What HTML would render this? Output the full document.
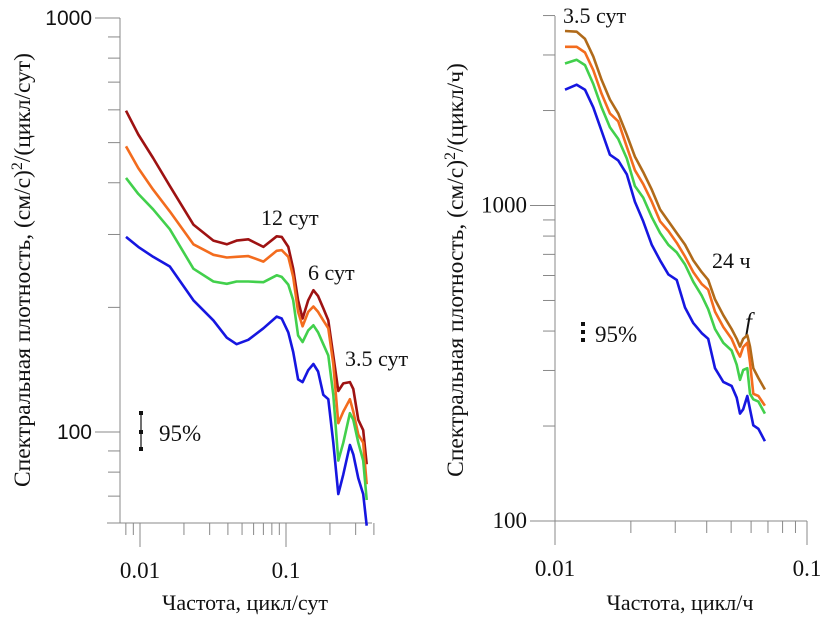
<!DOCTYPE html>
<html><head><meta charset="utf-8"><style>
html,body{margin:0;padding:0;background:#fff;}
svg{display:block;}
svg text{font-family:"Liberation Serif","DejaVu Serif",serif;fill:#111;}
</style></head><body>
<svg id="chart" width="823" height="618" viewBox="0 0 823 618" xmlns="http://www.w3.org/2000/svg" font-family="Liberation Serif, DejaVu Serif, serif">
<text x="245" y="610" text-anchor="middle" font-size="22">Частота, цикл/сут</text>
<text x="680" y="610" text-anchor="middle" font-size="22">Частота, цикл/ч</text>
<text transform="translate(30,270) rotate(-90)" text-anchor="middle" font-size="23.5">Спектральная плотность, (см/с)<tspan font-size="16" dy="-8">2</tspan><tspan dy="8">/(цикл/сут)</tspan></text>
<text transform="translate(463,270) rotate(-90)" text-anchor="middle" font-size="23.5">Спектральная плотность, (см/с)<tspan font-size="16" dy="-8">2</tspan><tspan dy="8">/(цикл/ч)</tspan></text>
<text x="261" y="225" font-size="22">12 сут</text>
<text x="308" y="280" font-size="22">6 сут</text>
<text x="345" y="366" font-size="22">3.5 сут</text>
<text x="563" y="23" font-size="22">3.5 сут</text>
<text x="712" y="268" font-size="22">24 ч</text>
<text x="745" y="330" font-size="25" font-style="italic">f</text>
<g>
  <line x1="141" y1="413" x2="141" y2="449" stroke="#111" stroke-width="1.2"/>
  <rect x="139" y="411" width="4" height="4" fill="#111"/>
  <rect x="139" y="430" width="4" height="4" fill="#111"/>
  <rect x="139" y="447" width="4" height="4" fill="#111"/>
</g>
<text x="159" y="441" font-size="23">95%</text>
<g>
  <rect x="581" y="322" width="4" height="4" fill="#111"/>
  <rect x="581" y="330" width="4" height="4" fill="#111"/>
  <rect x="581" y="338" width="4" height="4" fill="#111"/>
</g>
<text x="595" y="342" font-size="23">95%</text>
</svg>
<script>
// ---------- LEFT PANEL DATA ----------
const leftFreq = [0.00802,0.00973,0.0123,0.0160,0.0232,0.0318,0.0393,0.0459,0.0552,0.070,0.0863,0.0935,0.1037,0.112,0.121,0.130,0.142,0.154,0.166,0.180,0.195,0.211,0.228,0.247,0.274,0.289,0.313,0.338,0.357];
const leftDarkRed = [597,523,459,393,317,290,284,290,292,280,297,296,280,248,208,188,208,220,213,199,186,153,125.6,131,132,127,107,101,83.6];
const leftOrange = [490,434,385,341,284,268,264,265,266,258,274,275,265,237,195,180,195,201,195,186,178,146,105,112,120,112,98.5,94.2,74.8];
const leftGreen = [411,376,345,309,248,231,228,231,231,230,239,237,227,208,171,165,176,181,174,163,153,123,85.3,94.2,111,107,94.2,85.3,68.5];
const leftBlue = [296,280,265,251,208,186,169,163,167,178,190,188,174,156,134,132,141,146,140,123,120,94.2,70.8,79,93,88.3,77.3,70.8,59.4];
const leftYMajor = [100,1000];
const leftYMajorLabels = ["100","1000"];
const leftYMinor = [70,80,90,200,300,400,500,600,700,800,900];
const leftXMajor = [0.01,0.1];
const leftXMajorLabels = ["0.01","0.1"];
const leftXMinor = [0.008,0.009,0.02,0.03,0.04,0.05,0.06,0.07,0.08,0.09,0.2,0.3,0.4];

// ---------- RIGHT PANEL DATA ----------
const rightFreq = [0.01096,0.01219,0.01315,0.01419,0.01531,0.01652,0.01782,0.01928,0.02075,0.02239,0.02421,0.02612,0.02818,0.03041,0.03281,0.03540,0.03819,0.04055,0.04315,0.04656,0.05023,0.05260,0.05420,0.05585,0.05794,0.05943,0.06124,0.06412,0.06808];
const rightBrown = [3573,3556,3373,2965,2500,2168,1959,1675,1429,1276,1122,971,891,818,752,670,615,581,504,449,406,378,357,378,388,357,305,284,261];
const rightOrange = [3184,3184,3055,2685,2259,1959,1849,1535,1294,1169,1028,891,830,762,689,615,564,541,461,412,378,347,332,356,367,318,253,249,232];
const rightGreen = [2818,2897,2786,2427,2046,1770,1626,1409,1153,1059,918,818,750,710,650,573,518,469,406,367,347,313,280,301,305,253,243,239,219];
const rightBlue = [2328,2415,2328,2046,1722,1449,1390,1256,1028,891,750,670,605,581,475,424,394,378,305,276,268,246,219,226,249,226,201,196,179];
const rightYMajor = [100,1000];
const rightYMajorLabels = ["100","1000"];
const rightYMinor = [200,300,400,500,600,700,800,900,2000,3000,4000];
const rightXMajor = [0.01,0.1];
const rightXMajorLabels = ["0.01","0.1"];
const rightXMinor = [0.02,0.03,0.04,0.05,0.06,0.07,0.08,0.09];

const NS = "http://www.w3.org/2000/svg";
const svg = document.getElementById('chart');
function mk(tag, attrs, parent){
  const e = document.createElementNS(NS, tag);
  for (const k in attrs) e.setAttribute(k, attrs[k]);
  (parent||svg).appendChild(e);
  return e;
}
function logScale(d0,d1,r0,r1){
  const a=Math.log10(d0), b=Math.log10(d1);
  return v => r0 + (Math.log10(v)-a)/(b-a)*(r1-r0);
}
const AX = "#888";
const SERIF = '"Liberation Serif","DejaVu Serif",serif';
const SANS = '"Liberation Sans","DejaVu Sans",sans-serif';

function panel(cfg){
  const g = mk('g',{});
  
  
  const x = logScale(cfg.xd[0],cfg.xd[1],cfg.xr[0],cfg.xr[1]);
  const y = logScale(cfg.yd[0],cfg.yd[1],cfg.yr[0],cfg.yr[1]);
  const b = cfg.box;
  const ax = mk('g',{},g);
  
  
  const yl = mk('line',{x1:b.l,x2:b.l,y1:b.t,y2:b.b,stroke:AX,'stroke-width':1},ax);
  
  
  const xl = mk('line',{x1:b.xl,x2:b.r,y1:b.b,y2:b.b,stroke:AX,'stroke-width':1},ax);
  
  
  cfg.yMajor.forEach((v,i)=>{
    const yy=y(v);
    const t=mk('line',{x1:b.l-25,x2:b.l,y1:yy,y2:yy,stroke:AX},ax);
    
    
    const tx=mk('text',{x:b.l-28,y:yy+7,'text-anchor':'end','font-size':cfg.yfs},ax);
    tx.style.fontFamily=cfg.yfont;
    
    
    tx.textContent=cfg.yMajorLabels[i];
  });
  cfg.yMinor.forEach(v=>{
    const yy=y(v);
    const t=mk('line',{x1:b.l-12,x2:b.l,y1:yy,y2:yy,stroke:AX},ax);
    
    
  });
  cfg.xMajor.forEach((v,i)=>{
    const xx=x(v);
    const t=mk('line',{x1:xx,x2:xx,y1:b.b,y2:b.b+24,stroke:AX},ax);
    
    
    const tx=mk('text',{x:xx,y:b.b+55,'text-anchor':'middle','font-size':23},ax);
    tx.style.fontFamily=SERIF;
    
    
    tx.textContent=cfg.xMajorLabels[i];
  });
  cfg.xMinor.forEach(v=>{
    const xx=x(v);
    const t=mk('line',{x1:xx,x2:xx,y1:b.b,y2:b.b+12,stroke:AX},ax);
    
    
  });
  cfg.series.forEach(s=>{
    const d=cfg.freq.map((f,i)=>(i?'L':'M')+x(f).toFixed(1)+' '+y(s.vals[i]).toFixed(1)).join(' ');
    const p=mk('path',{d:d,fill:'none',stroke:s.color,'stroke-width':2.6,'stroke-linejoin':'round'},g);
    
    
  });
}

panel({name:'left-panel', xd:[0.01,0.1], xr:[140,286], yd:[100,1000], yr:[432,18],
  box:{l:120,r:372,t:18,b:523,xl:107}, yfs:21, yfont:SANS,
  freq:leftFreq, yMajor:leftYMajor, yMajorLabels:leftYMajorLabels, yMinor:leftYMinor,
  xMajor:leftXMajor, xMajorLabels:leftXMajorLabels, xMinor:leftXMinor,
  series:[{name:'series-dark-red',color:'#9e1212',vals:leftDarkRed},
          {name:'series-orange',color:'#f36c1e',vals:leftOrange},
          {name:'series-green',color:'#42d04c',vals:leftGreen},
          {name:'series-blue',color:'#1616e0',vals:leftBlue}]});

panel({name:'right-panel', xd:[0.01,0.1], xr:[555,807], yd:[100,1000], yr:[521,205.5],
  box:{l:555,r:807,t:16,b:521,xl:555}, yfs:23, yfont:SERIF,
  freq:rightFreq, yMajor:rightYMajor, yMajorLabels:rightYMajorLabels, yMinor:rightYMinor,
  xMajor:rightXMajor, xMajorLabels:rightXMajorLabels, xMinor:rightXMinor,
  series:[{name:'series-brown',color:'#b06a1a',vals:rightBrown},
          {name:'series-orange',color:'#f36c1e',vals:rightOrange},
          {name:'series-green',color:'#42d04c',vals:rightGreen},
          {name:'series-blue',color:'#1616e0',vals:rightBlue}]});
</script>
</body></html>
